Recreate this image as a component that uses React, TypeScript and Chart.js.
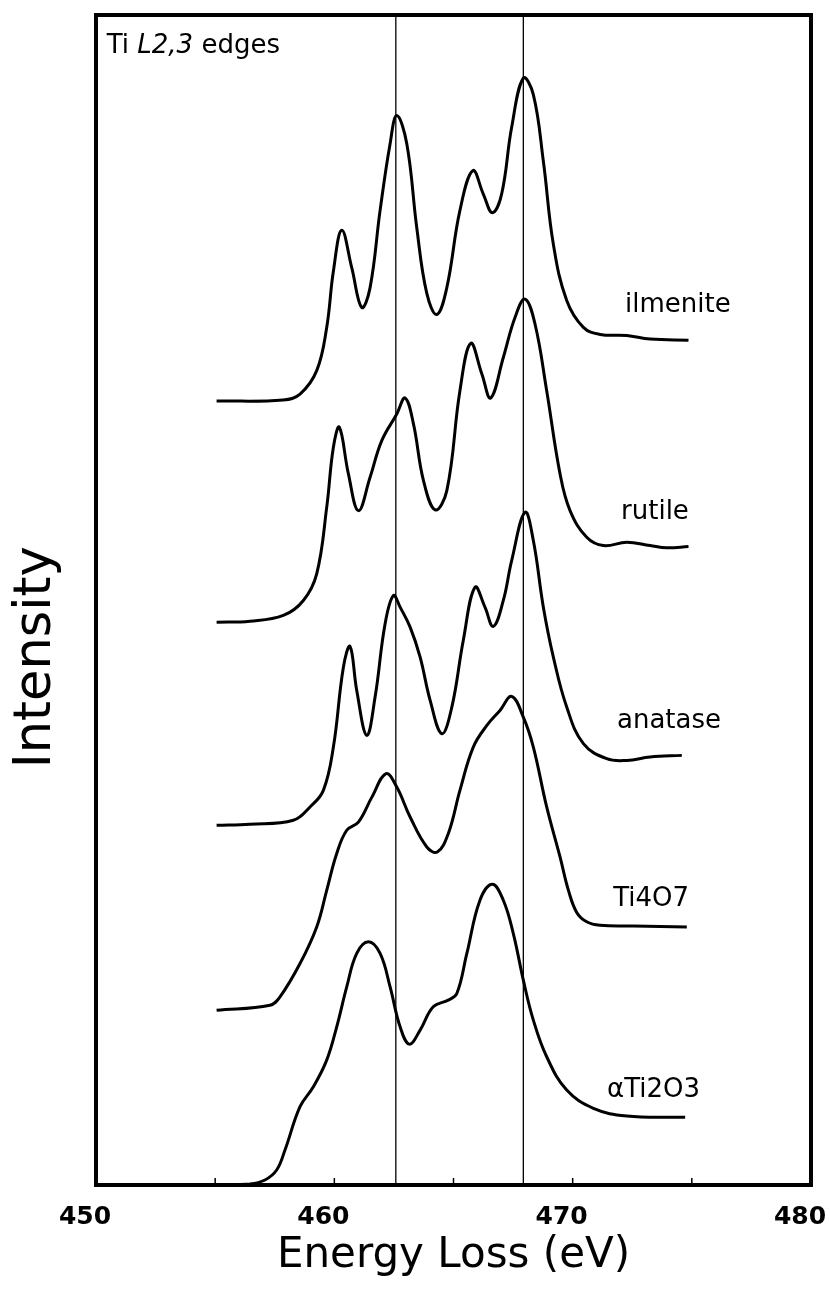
import React, { useEffect, useRef } from "react";
import { Chart, registerables } from "chart.js";

Chart.register(...registerables);

// ---------- data (energy in eV, intensity in arbitrary offset units) ----------
const X_MIN = 450;
const X_MAX = 480;
const Y_MIN = 0;
const Y_MAX = 100;
const X_MINOR_TICKS = [455, 460, 465, 470, 475];
const REF_LINES = [462.58, 467.93];

const ILMENITE_E = [455.06, 457.85, 458.56, 459.26, 459.68, 459.96, 460.31, 460.73, 461.15, 461.5, 461.92, 462.34, 462.62, 463.04, 463.46, 463.88, 464.3, 464.72, 465.27, 465.81, 466.25, 466.63, 467.02, 467.44, 467.93, 468.35, 468.77, 469.19, 469.75, 470.45, 471.15, 472.27, 473.25, 474.86];
const ILMENITE_I = [67.0, 67.1, 67.6, 69.6, 73.3, 78.1, 81.6, 78.4, 75.0, 76.7, 83.3, 89.0, 91.4, 89.0, 81.8, 76.2, 74.4, 76.7, 83.3, 86.7, 84.7, 83.1, 84.7, 90.4, 94.6, 93.2, 87.5, 80.4, 75.6, 73.3, 72.7, 72.6, 72.3, 72.2];

const RUTILE_E = [455.06, 456.46, 457.86, 458.7, 459.26, 459.68, 459.96, 460.21, 460.59, 461.01, 461.5, 461.99, 462.62, 462.97, 463.32, 463.74, 464.23, 464.72, 465.27, 465.72, 466.19, 466.56, 467.09, 467.58, 468.0, 468.42, 468.91, 469.47, 469.89, 470.59, 471.29, 472.27, 473.25, 473.95, 474.86];
const RUTILE_I = [48.1, 48.19, 48.68, 49.96, 52.24, 57.92, 63.05, 64.76, 60.78, 57.64, 60.49, 63.62, 65.9, 67.27, 65.05, 60.21, 57.7, 59.35, 67.89, 71.93, 69.32, 67.27, 70.73, 74.15, 75.72, 73.59, 67.89, 60.78, 57.64, 55.36, 54.65, 54.94, 54.65, 54.46, 54.57];

const ANATASE_E = [455.06, 456.46, 458.28, 458.98, 459.54, 459.96, 460.38, 460.66, 460.94, 461.36, 461.71, 462.13, 462.48, 462.76, 463.18, 463.6, 464.02, 464.51, 464.93, 465.41, 465.9, 466.32, 466.67, 467.09, 467.44, 468.0, 468.35, 468.77, 469.19, 469.75, 470.45, 471.43, 472.27, 473.25, 474.58];
const ANATASE_I = [30.74, 30.83, 31.17, 32.31, 33.73, 37.43, 44.26, 46.03, 42.27, 38.43, 41.7, 47.97, 50.38, 49.39, 47.68, 45.12, 41.42, 38.57, 40.85, 46.54, 51.09, 49.39, 47.74, 49.96, 53.37, 57.5, 55.08, 49.39, 45.12, 40.85, 37.72, 36.44, 36.29, 36.58, 36.72];

const TI4O7_E = [455.06, 457.3, 457.72, 458.56, 459.26, 459.68, 460.1, 460.52, 461.01, 461.57, 462.17, 462.62, 463.18, 463.88, 464.32, 464.78, 465.27, 465.83, 466.4, 466.95, 467.44, 467.93, 468.35, 468.91, 469.47, 469.82, 470.17, 470.59, 471.15, 472.55, 474.79];
const TI4O7_I = [14.94, 15.37, 16.08, 18.93, 22.06, 25.19, 28.33, 30.32, 31.02, 33.13, 35.16, 34.01, 31.45, 28.89, 28.46, 30.03, 33.73, 37.43, 39.28, 40.56, 41.76, 39.99, 37.43, 32.31, 28.04, 25.2, 23.3, 22.5, 22.2, 22.14, 22.06];

const TI2O3_E = [455.06, 456.46, 457.09, 457.58, 457.93, 458.56, 459.12, 459.68, 460.1, 460.52, 460.94, 461.43, 461.92, 462.34, 462.76, 463.15, 463.6, 464.15, 464.78, 465.14, 465.56, 466.11, 466.63, 467.09, 467.51, 467.93, 468.35, 468.91, 469.75, 470.87, 472.27, 474.72];
const TI2O3_I = [0.0, 0.09, 0.43, 1.28, 2.99, 6.69, 8.39, 10.67, 13.52, 16.93, 19.79, 20.78, 19.79, 16.93, 13.52, 12.04, 13.24, 15.23, 15.8, 16.37, 19.79, 24.34, 25.7, 24.34, 21.49, 17.51, 14.09, 10.96, 8.11, 6.55, 5.89, 5.78];

const SERIES_NAMES = ["ilmenite", "rutile", "anatase", "Ti4O7", "\u03B1Ti2O3"];
const SERIES_E = [ILMENITE_E, RUTILE_E, ANATASE_E, TI4O7_E, TI2O3_E];
const SERIES_I = [ILMENITE_I, RUTILE_I, ANATASE_I, TI4O7_I, TI2O3_I];
// label anchors (data units)
const LABEL_E = [472.2, 472.03, 471.86, 471.7, 471.44];
const LABEL_I = [75.2, 57.5, 39.6, 24.4, 8.1];

const PANEL_TITLE_PARTS = ["Ti ", "L2,3", " edges"];
const PANEL_TITLE_E = 450.45;
const PANEL_TITLE_I = 96.75;

const X_TITLE = "Energy Loss (eV)";
const Y_TITLE = "Intensity";
const Y_TITLE_CENTER_I = 45.1;

const FONT = "'DejaVu Sans', sans-serif";

const decorPlugin = {
  id: "decor",
  afterDraw(chart: any) {
    const { ctx, chartArea: a, scales } = chart;
    const xs = scales.x;
    const ys = scales.y;
    ctx.save();
    // frame
    ctx.strokeStyle = "#000";
    ctx.lineWidth = 4;
    ctx.strokeRect(a.left, a.top, a.right - a.left, a.bottom - a.top);
    // inward tick marks
    ctx.lineWidth = 1.5;
    for (const v of X_MINOR_TICKS) {
      const px = xs.getPixelForValue(v);
      ctx.beginPath();
      ctx.moveTo(px, a.bottom);
      ctx.lineTo(px, a.bottom - 7);
      ctx.stroke();
    }
    // series labels
    ctx.fillStyle = "#000";
    ctx.font = `26px ${FONT}`;
    ctx.textAlign = "left";
    ctx.textBaseline = "middle";
    SERIES_NAMES.forEach((n, i) => {
      ctx.fillText(n, xs.getPixelForValue(LABEL_E[i]), ys.getPixelForValue(LABEL_I[i]));
    });
    // panel title with italic part
    ctx.textBaseline = "alphabetic";
    let tx = xs.getPixelForValue(PANEL_TITLE_E);
    const ty = ys.getPixelForValue(PANEL_TITLE_I);
    PANEL_TITLE_PARTS.forEach((p, i) => {
      ctx.font = (i === 1 ? "italic " : "") + `26px ${FONT}`;
      ctx.fillText(p, tx, ty);
      tx += ctx.measureText(p).width;
    });
    // y-axis title
    ctx.font = `51px ${FONT}`;
    ctx.textAlign = "center";
    ctx.textBaseline = "alphabetic";
    ctx.translate(a.left - 46, ys.getPixelForValue(Y_TITLE_CENTER_I));
    ctx.rotate(-Math.PI / 2);
    ctx.fillText(Y_TITLE, 0, 0);
    ctx.restore();
  },
};

export default function App() {
  const ref = useRef<HTMLCanvasElement | null>(null);

  useEffect(() => {
    if (!ref.current) return;
    const datasets: any[] = [];
    REF_LINES.forEach((v) => {
      datasets.push({
        data: [
          { x: v, y: Y_MIN },
          { x: v, y: Y_MAX },
        ],
        borderColor: "#000",
        borderWidth: 1.3,
        pointRadius: 0,
        fill: false,
      });
    });
    SERIES_NAMES.forEach((name, i) => {
      datasets.push({
        label: name,
        data: SERIES_E[i].map((e, j) => ({ x: e, y: SERIES_I[i][j] })),
        borderColor: "#000",
        borderWidth: 3,
        pointRadius: 0,
        fill: false,
        tension: 0.4,
      });
    });

    const chart = new Chart(ref.current, {
      type: "line",
      data: { datasets },
      options: {
        animation: false,
        responsive: true,
        maintainAspectRatio: false,
        events: [],
        layout: { padding: { left: 0, top: 15, right: 19, bottom: 0 } },
        plugins: { legend: { display: false }, tooltip: { enabled: false } },
        scales: {
          x: {
            type: "linear",
            min: X_MIN,
            max: X_MAX,
            grid: { display: false },
            border: { display: false },
            ticks: {
              stepSize: 10,
              autoSkip: false,
              maxRotation: 0,
              padding: 9,
              labelOffset: -11,
              color: "#000",
              font: { family: FONT, size: 25, weight: "bold" },
            },
            title: {
              display: true,
              text: X_TITLE,
              color: "#000",
              font: { family: FONT, size: 42 },
              padding: { top: 0, bottom: 17 },
            },
            afterFit: (s: any) => {
              s.height = 113;
              s.paddingLeft = 0;
              s.paddingRight = 0;
            },
          },
          y: {
            type: "linear",
            min: Y_MIN,
            max: Y_MAX,
            grid: { display: false },
            border: { display: false },
            ticks: { display: false },
            title: { display: false },
            afterFit: (s: any) => {
              s.width = 96;
              s.paddingTop = 0;
              s.paddingBottom = 0;
            },
          },
        },
      },
      plugins: [decorPlugin],
    });
    return () => chart.destroy();
  }, []);

  return (
    <div style={{ position: "fixed", left: 0, top: 0, width: 830, height: 1298, background: "#fff" }}>
      <canvas ref={ref} style={{ display: "block" }} />
    </div>
  );
}
